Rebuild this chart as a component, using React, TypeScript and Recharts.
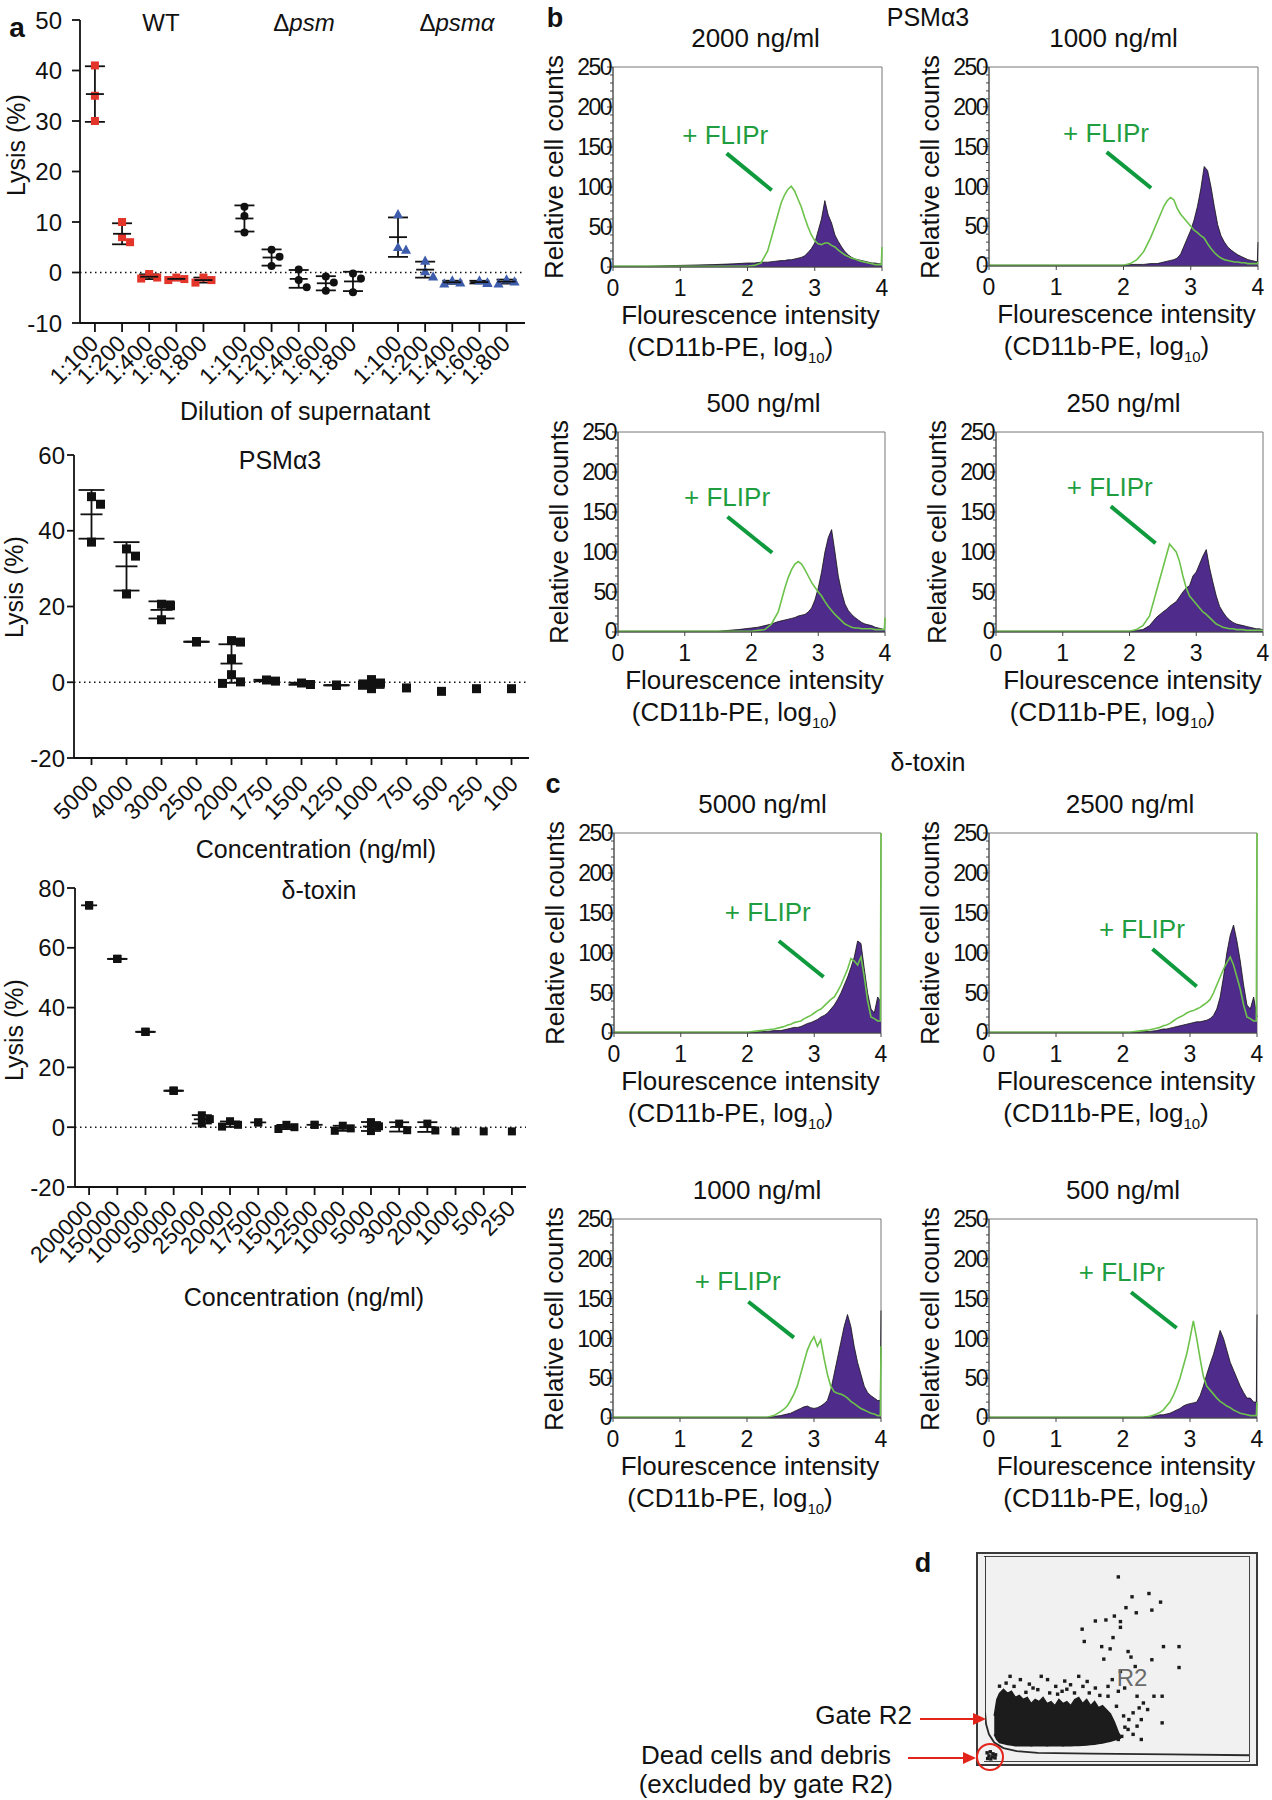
import React from 'react';
import {
  ScatterChart, ComposedChart, Scatter, XAxis, YAxis, ReferenceLine,
  ErrorBar, Area, Line, ReferenceArea, ReferenceDot,
} from 'recharts';

const FONT = '"Liberation Sans", Arial, Helvetica, sans-serif';
const INK = '#111111';
const RED = '#e4352a';
const BLUE = '#3d5cab';
const PURPLE = '#4f2c8c';
const GREEN_LINE = '#6cc24a';
const GREEN_TEXT = '#1f9e40';
const GREEN_MARK = '#0f9a3d';

// ---------------- Panel a : lysis data ----------------
const dilutionLabels = ['1:100', '1:200', '1:400', '1:600', '1:800'];
const wtLysis = [[41, 35, 30], [10, 7, 6], [-0.3, -1, -1.2], [-1, -1.3, -1.5], [-1, -1.5, -2]];
const psmLysis = [[13, 11.2, 7.9], [4.5, 3.1, 1.3], [0.6, -1.5, -2.9], [-0.8, -2, -3.6], [-0.2, -1.2, -3.9]];
const psmaLysis = [[11.5, 5, 4.5], [2.3, 0.2, -0.8], [-1.6, -2, -2.2], [-1.6, -2, -2.1], [-1.4, -1.8, -2.2]];

const psmA3Conc = ['5000', '4000', '3000', '2500', '2000', '1750', '1500', '1250', '1000', '750', '500', '250', '100'];
const psmA3Lysis = [
  [49, 47, 37], [35.2, 33.3, 23.3], [20.6, 20.2, 16.5], [10.7, 10.7, 10.7],
  [11.0, 10.6, 6.2, 2.0, 0.1, -0.3], [0.6, 0.3], [-0.2, -0.6], [-0.8, -0.8, -0.8],
  [0.7, -0.2, -0.8, -1.7], [-1.5], [-2.4], [-1.7], [-1.7],
];

const deltaConc = ['200000', '150000', '100000', '50000', '25000', '20000', '17500', '15000', '12500', '10000', '5000', '3000', '2000', '1000', '500', '250'];
const deltaLysis = [
  [74.2, 74.2, 74.2], [56.3, 56.3, 56.3], [31.9, 31.9, 31.9], [12.2, 12.2, 12.2],
  [4.0, 2.7, 1.2], [2.0, 0.8, 0.2], [1.6, 1.6], [0.8, 0.0, -0.6], [0.8, 0.8],
  [0.5, -0.4, -1.2], [1.7, 0.3, -1.3], [1.2, -1.0], [1.2, -1.1], [-1.4], [-1.4], [-1.4],
];

// ---------------- Panels b, c : histograms ----------------
const GRID = [0, 0.5, 1, 1.5, 1.8, 2.0, 2.1, 2.2, 2.3, 2.4, 2.5, 2.55, 2.6, 2.65, 2.7, 2.75, 2.8, 2.85, 2.9, 2.95,
  3.0, 3.05, 3.1, 3.15, 3.2, 3.25, 3.3, 3.35, 3.4, 3.45, 3.5, 3.55, 3.6, 3.65, 3.7, 3.75, 3.8, 3.85, 3.9, 3.95, 3.99, 4.0];

const b2000Control = [1, 1, 2, 3, 4, 5, 5, 6, 6, 7, 8, 8, 9, 9, 10, 11, 12, 14, 18, 23, 30, 45, 60, 83, 65, 55, 40, 32, 25, 19, 15, 12, 10, 9, 8, 7, 6, 5, 5, 4, 4, 4];
const b2000Flipr = [1, 1, 1, 1, 1, 1, 2, 5, 20, 50, 80, 90, 97, 101, 95, 85, 75, 62, 50, 40, 33, 29, 28, 30, 30, 27, 25, 21, 18, 15, 13, 11, 10, 8, 7, 6, 5, 4, 3, 3, 3, 25];
const b1000Control = [1, 1, 1, 1, 1, 1, 2, 2, 2, 3, 3, 4, 5, 6, 7, 8, 10, 15, 25, 35, 45, 58, 75, 97, 125, 120, 100, 75, 52, 38, 30, 24, 20, 17, 14, 12, 10, 8, 7, 6, 5, 30];
const b1000Flipr = [1, 1, 1, 1, 1, 1, 3, 8, 18, 35, 55, 65, 75, 82, 86, 83, 72, 65, 60, 55, 50, 45, 42, 38, 35, 28, 22, 17, 13, 10, 8, 7, 6, 5, 5, 4, 4, 3, 3, 3, 3, 5];
const b500Control = [1, 1, 1, 1, 3, 5, 6, 8, 10, 13, 15, 16, 17, 18, 20, 21, 22, 25, 30, 40, 55, 75, 100, 118, 128, 100, 70, 50, 35, 27, 22, 18, 15, 12, 10, 9, 8, 6, 5, 4, 3, 3];
const b500Flipr = [1, 1, 1, 1, 1, 1, 2, 3, 10, 25, 55, 68, 78, 85, 88, 85, 78, 70, 62, 56, 50, 45, 38, 32, 27, 22, 18, 14, 10, 8, 6, 5, 5, 4, 4, 4, 4, 3, 3, 3, 3, 18];
const b250Control = [1, 1, 1, 1, 1, 1, 2, 3, 8, 18, 25, 28, 32, 35, 38, 44, 50, 55, 58, 70, 75, 85, 95, 103, 80, 62, 45, 32, 25, 19, 15, 12, 10, 9, 8, 7, 6, 5, 4, 4, 3, 3];
const b250Flipr = [1, 1, 1, 1, 1, 1, 3, 8, 20, 50, 80, 95, 110, 105, 100, 88, 70, 55, 45, 40, 35, 30, 25, 22, 18, 14, 10, 8, 6, 5, 4, 4, 3, 3, 3, 2, 2, 2, 2, 2, 2, 2];
const c5000Control = [1, 1, 1, 1, 1, 1, 1, 2, 2, 3, 3, 4, 5, 6, 7, 7, 8, 10, 12, 13, 15, 17, 20, 22, 25, 30, 35, 42, 50, 60, 70, 82, 95, 115, 112, 80, 50, 30, 25, 45, 40, 40];
const c5000Flipr = [1, 1, 1, 1, 1, 1, 2, 3, 4, 5, 7, 8, 10, 11, 13, 14, 15, 18, 20, 22, 25, 28, 30, 34, 38, 42, 45, 52, 60, 70, 80, 93, 90, 85, 95, 70, 40, 20, 18, 15, 15, 250];
const c2500Control = [1, 1, 1, 1, 1, 1, 1, 1, 2, 2, 3, 4, 5, 5, 6, 7, 8, 9, 10, 11, 12, 13, 14, 14, 15, 16, 18, 22, 30, 45, 70, 100, 122, 135, 115, 90, 60, 35, 30, 45, 25, 20];
const c2500Flipr = [1, 1, 1, 1, 1, 1, 1, 2, 3, 4, 6, 7, 9, 10, 12, 15, 18, 20, 22, 25, 27, 28, 30, 32, 35, 38, 42, 50, 60, 70, 80, 88, 95, 85, 70, 55, 35, 20, 18, 15, 15, 250];
const c1000Control = [1, 1, 1, 1, 1, 1, 1, 1, 1, 2, 3, 4, 5, 6, 8, 10, 12, 14, 15, 13, 12, 13, 15, 18, 22, 35, 55, 75, 95, 115, 130, 115, 90, 70, 55, 40, 32, 28, 25, 22, 22, 135];
const c1000Flipr = [1, 1, 1, 1, 1, 1, 1, 1, 1, 3, 8, 11, 15, 22, 30, 40, 55, 70, 85, 95, 102, 90, 98, 75, 55, 40, 33, 31, 30, 28, 25, 21, 18, 15, 12, 10, 8, 6, 5, 3, 3, 90];
const c500Control = [1, 1, 1, 1, 1, 1, 1, 1, 1, 2, 3, 4, 4, 5, 6, 8, 10, 12, 15, 17, 18, 19, 20, 28, 40, 55, 68, 80, 95, 110, 100, 85, 70, 60, 50, 40, 32, 25, 25, 20, 20, 130];
const c500Flipr = [1, 1, 1, 1, 1, 1, 1, 1, 1, 2, 5, 7, 10, 15, 20, 28, 38, 50, 65, 80, 100, 122, 100, 75, 52, 40, 35, 30, 25, 21, 18, 15, 13, 10, 8, 6, 5, 4, 3, 3, 3, 20];

// ---------------- Panel d : dot plot (0-100 scale inside the frame) ----------------
const blobX = [3.5, 4.5, 5.5, 7, 8.5, 10, 11.5, 13, 14.5, 16, 17.5, 19, 20.5, 22, 23.5, 25, 26.5, 28, 29.5, 31, 32.5, 34, 35.5, 37, 38.5, 40, 41.5, 43, 44.5, 46, 47.5, 49, 50.5, 51.5];
const blobHigh = [22, 30, 33, 35, 33, 34, 31, 32, 30, 31, 28, 30, 29, 31, 28, 29, 27, 30, 28, 29, 27, 30, 31, 28, 30, 27, 29, 26, 27, 25, 23, 19, 14, 11.5];
const blobLow = [13, 10.5, 9, 8.5, 8, 7.8, 7.5, 7.5, 7.4, 7.5, 7.3, 7.5, 7.4, 7.5, 7.3, 7.5, 7.4, 7.5, 7.3, 7.5, 7.4, 7.5, 7.6, 7.7, 7.8, 8, 8.2, 8.5, 8.8, 9.2, 9.6, 10.2, 10.8, 11.2];
const dotX = [50.5, 55.7, 62.1, 66.5, 53.4, 63.2, 57.3, 49.0, 41.8, 45.8, 51.3, 36.8, 51.3, 48.5, 37.6, 44.2, 47.4, 67.6, 73.5, 54.2,
  55.3, 63.2, 45.0, 56.9, 73.5, 51.3, 48.2, 46.6, 52.9, 50.5, 57.6, 64.0, 67.1, 60.0, 58.4, 61.6, 56.1, 54.5, 59.2, 57.6,
  67.1, 54.2, 59.2, 50.5, 56.1, 9.5, 13.4, 21.3, 23.7, 26.8, 32.4, 35.5, 38.7, 41.8, 39.5, 29.2, 11.0, 18.2, 37.1, 33.9,
  7.1, 24.5, 46.6, 49.8, 48.2, 15.5, 20.0, 27.5, 31.0, 43.5, 5.5, 8.0, 16.8, 30.2, 52.5, 53.0, 51.8,
  0.8, 2.0, 3.0, 1.5, 2.8, 4.0, 1.0, 3.8, 2.2];
const dotY = [89.8, 80.1, 81.7, 77.5, 74.8, 73.6, 72.3, 70.7, 68.3, 68.8, 68.0, 64.3, 65.2, 60.2, 58.3, 55.8, 54.7, 55.8, 55.8, 53.4,
  50.7, 49.4, 49.7, 46.1, 45.6, 43.7, 39.7, 36.4, 35.6, 34.0, 31.6, 31.6, 31.6, 28.3, 25.9, 25.1, 23.5, 20.2, 20.2, 17.0,
  18.6, 15.4, 10.5, 10.5, 13.0, 41.3, 39.7, 41.3, 39.7, 36.4, 37.2, 41.3, 38.8, 35.6, 33.2, 34.0, 36.4, 35.6, 36.4, 33.2,
  31.6, 33.2, 31.6, 26.7, 17.0, 33.5, 34.8, 32.6, 35.0, 32.0, 36.5, 38.0, 37.5, 39.0, 22.0, 16.5, 12.0,
  4.0, 4.5, 3.5, 2.5, 2.0, 3.0, 1.2, 1.5, 1.0];
const gateX = [0, 0, 0.4, 1.5, 3.5, 7, 12, 20, 40, 70, 100];
const gateY = [100, 24, 18, 13, 9, 6.3, 4.8, 4.0, 3.6, 3.2, 2.8];

// ---------------- helpers ----------------
const meanOf = (v: number[]) => v.reduce((a, b) => a + b, 0) / v.length;
const sdOf = (v: number[]) => {
  if (v.length < 2) return 0;
  const m = meanOf(v);
  return Math.sqrt(v.reduce((a, b) => a + (b - m) ** 2, 0) / (v.length - 1));
};

function swarm(values: number[], pos: number, pxX: number, pxY: number, size: number) {
  const placed: { dx: number; py: number }[] = [];
  return values.map((v) => {
    const py = v * pxY;
    const same = placed.find((p) => Math.abs(p.py - py) < 1);
    if (same) return { x: pos + same.dx / pxX, y: v };
    let dx = 0;
    for (const s of [0, 1, -1, 2, -2, 3, -3]) {
      dx = s * size;
      if (!placed.some((p) => Math.abs(p.py - py) < size && Math.abs(p.dx - dx) < size * 0.95)) break;
    }
    placed.push({ dx, py });
    return { x: pos + dx / pxX, y: v };
  });
}

const marker = (kind: string, color: string, size: number) => (p: any) => {
  const { cx, cy } = p;
  if (cx == null || cy == null) return <g />;
  if (kind === 'circle') return <circle cx={cx} cy={cy} r={size / 2} fill={color} />;
  if (kind === 'triangle') {
    const s = size * 1.15;
    return <polygon points={`${cx},${cy - s * 0.58} ${cx - s * 0.55},${cy + s * 0.42} ${cx + s * 0.55},${cy + s * 0.42}`} fill={color} />;
  }
  return <rect x={cx - size / 2} y={cy - size / 2} width={size} height={size} fill={color} />;
};
const meanMark = (w: number) => (p: any) => (
  <line x1={p.cx - w / 2} x2={p.cx + w / 2} y1={p.cy} y2={p.cy} stroke={INK} strokeWidth={1.8} />
);

function Txt({ x, y, size = 25, rotate = false, bold = false, color = INK, anchor = 'middle', family = FONT, children }: any) {
  const tx = anchor === 'middle' ? '-50%' : anchor === 'end' ? '-100%' : '0%';
  return (
    <div style={{
      position: 'absolute', left: x, top: y,
      transform: `translate(${tx},-50%)${rotate ? ' rotate(-90deg)' : ''}`,
      fontSize: size, fontFamily: family, fontWeight: bold ? 700 : 400,
      color, whiteSpace: 'nowrap', lineHeight: 1,
    }}>{children}</div>
  );
}

type SeriesSpec = { groups: number[][]; positions: number[]; color: string; shape: string };

function LysisChart(props: any) {
  const {
    left, top, width, height, marginTop, marginRight, yAxisWidth, xAxisHeight,
    xDomain, xTicks, xLabels, yDomain, yTicks, yTickSize, yTickMargin, xTickSize, tickDx, tickDy,
    series, size, meanWidth, capWidth,
  } = props;
  const plotW = width - yAxisWidth - marginRight;
  const plotH = height - marginTop - xAxisHeight;
  const pxX = plotW / (xDomain[1] - xDomain[0]);
  const pxY = plotH / (yDomain[1] - yDomain[0]);
  const pointSets = (series as SeriesSpec[]).map((s) =>
    s.groups.flatMap((vals, i) => swarm(vals, s.positions[i], pxX, pxY, size)));
  const means = (series as SeriesSpec[])
    .flatMap((s) => s.groups.map((vals, i) => ({ vals, pos: s.positions[i] })))
    .filter((g) => g.vals.length > 1)
    .map((g) => ({ x: g.pos, y: meanOf(g.vals), sd: sdOf(g.vals) }));
  const labelOf = (v: number) => {
    const idx = xTicks.findIndex((t: number) => Math.abs(t - v) < 1e-6);
    return idx >= 0 ? xLabels[idx] : '';
  };
  const axisStyle = { stroke: INK, strokeWidth: 1.8 };
  return (
    <div style={{ position: 'absolute', left, top }}>
      <ScatterChart width={width} height={height} margin={{ top: marginTop, right: marginRight, left: 0, bottom: 0 }}>
        <XAxis
          type="number" dataKey="x" domain={xDomain} ticks={xTicks} interval={0} allowDataOverflow
          height={xAxisHeight} tickSize={xTickSize} tickMargin={0} axisLine={axisStyle} tickLine={axisStyle}
          tick={(tp: any) => (
            <g transform={`translate(${tp.x + tickDx},${tp.y + tickDy})`}>
              <text textAnchor="end" transform="rotate(-45)" fontSize={23} fontFamily={FONT} fill={INK}>
                {labelOf(tp.payload.value)}
              </text>
            </g>
          )}
        />
        <YAxis
          type="number" dataKey="y" domain={yDomain} ticks={yTicks} interval={0} allowDataOverflow
          width={yAxisWidth} tickSize={yTickSize} tickMargin={yTickMargin} axisLine={axisStyle} tickLine={axisStyle}
          tick={{ fill: INK, fontSize: 24, fontFamily: FONT }}
        />
        <ReferenceLine y={0} stroke={INK} strokeWidth={1.6} strokeDasharray="1.5 3.5" />
        {(series as SeriesSpec[]).map((s, k) => (
          <Scatter key={k} data={pointSets[k]} shape={marker(s.shape, s.color, size)} isAnimationActive={false} />
        ))}
        <Scatter data={means} shape={meanMark(meanWidth)} isAnimationActive={false}>
          <ErrorBar dataKey="sd" direction="y" width={capWidth} stroke={INK} strokeWidth={1.8} />
        </Scatter>
      </ScatterChart>
    </div>
  );
}

const histTicks = Array.from({ length: 26 }, (_, i) => i * 10);
const HistYTick = (p: any) => {
  const { x, y, payload } = p;
  const v = payload.value;
  const major = v % 50 === 0;
  return (
    <g>
      <line x1={x - (major ? 6 : 3)} x2={x} y1={y} y2={y} stroke="#444" strokeWidth={1} />
      {major && (
        <text x={x - 2} y={y} dy={v === 0 ? '0.3em' : '0.36em'} textAnchor="end" fontSize={23} fontFamily={FONT} fill={INK} letterSpacing={-1.5}>{v}</text>
      )}
    </g>
  );
};

function Histogram({ L, T, W, H, title, titleDx, control, flipr, note }: any) {
  const data = GRID.map((x, i) => ({ x, control: control[i], flipr: flipr[i] }));
  const padL = 70, padT = 20, padR = 12, xh = 40;
  return (
    <>
      <Txt x={L + W / 2 + titleDx} y={T - 29} size={26}>{title}</Txt>
      <Txt x={L - 59} y={T + H / 2} size={26} rotate>Relative cell counts</Txt>
      <Txt x={L + W / 2 + 3} y={T + H + 48} size={26}>Flourescence intensity</Txt>
      <Txt x={L + W / 2 - 17} y={T + H + 80} size={26}>
        (CD11b-PE, log<span style={{ fontSize: 15, position: 'relative', top: 7 }}>10</span>)
      </Txt>
      <div style={{ position: 'absolute', left: L - padL, top: T - padT }}>
        <ComposedChart width={W + padL + padR} height={H + padT + xh} data={data} margin={{ top: padT, right: padR, left: 0, bottom: 0 }}>
          <XAxis
            type="number" dataKey="x" domain={[0, 4]} ticks={[0, 1, 2, 3, 4]} interval={0} height={xh}
            tickSize={4} tickMargin={9} axisLine={{ stroke: '#444' }} tickLine={{ stroke: '#444' }}
            tick={{ fill: INK, fontSize: 23, fontFamily: FONT }}
          />
          <YAxis
            type="number" domain={[0, 250]} ticks={histTicks} interval={0} width={padL}
            tickSize={0} tickMargin={0} tickLine={false} axisLine={{ stroke: '#444' }} tick={HistYTick}
          />
          <ReferenceArea x1={0} x2={4} y1={0} y2={250} fill="none" stroke="#777" strokeWidth={1} ifOverflow="visible" />
          <Area type="linear" dataKey="control" stroke="#111" strokeWidth={0.8} fill={PURPLE} fillOpacity={1}
            dot={false} activeDot={false} isAnimationActive={false} />
          <Line type="linear" dataKey="flipr" stroke={GREEN_LINE} strokeWidth={1.6}
            dot={false} activeDot={false} isAnimationActive={false} />
          <ReferenceLine segment={[{ x: note[2], y: note[3] }, { x: note[4], y: note[5] }]} stroke={GREEN_MARK} strokeWidth={4} />
          <ReferenceDot x={note[0]} y={note[1]} r={0} fill="none" stroke="none"
            label={{ value: '+ FLIPr', position: 'right', offset: 0, fill: GREEN_TEXT, fontSize: 26, fontFamily: FONT }} />
        </ComposedChart>
      </div>
    </>
  );
}

// layout of histogram panels: frame left/top/width/height + FLIPr annotation (label x,y ; segment x1,y1,x2,y2)
const histPanels = [
  { L: 613, T: 67, W: 269, H: 200, title: '2000 ng/ml', titleDx: 8, control: b2000Control, flipr: b2000Flipr, note: [1.03, 165, 1.69, 142, 2.36, 96] },
  { L: 989, T: 67, W: 269, H: 199, title: '1000 ng/ml', titleDx: -10, control: b1000Control, flipr: b1000Flipr, note: [1.1, 168, 1.75, 143, 2.41, 98] },
  { L: 618, T: 432, W: 267, H: 200, title: '500 ng/ml', titleDx: 12, control: b500Control, flipr: b500Flipr, note: [0.99, 169, 1.64, 144, 2.31, 99] },
  { L: 996, T: 432, W: 267, H: 200, title: '250 ng/ml', titleDx: -6, control: b250Control, flipr: b250Flipr, note: [1.06, 182, 1.72, 157, 2.39, 111] },
  { L: 614, T: 833, W: 267, H: 200, title: '5000 ng/ml', titleDx: 15, control: c5000Control, flipr: c5000Flipr, note: [1.66, 152, 2.47, 115, 3.14, 70] },
  { L: 989, T: 833, W: 268, H: 200, title: '2500 ng/ml', titleDx: 7, control: c2500Control, flipr: c2500Flipr, note: [1.64, 130, 2.44, 105, 3.1, 58] },
  { L: 613, T: 1219, W: 268, H: 199, title: '1000 ng/ml', titleDx: 10, control: c1000Control, flipr: c1000Flipr, note: [1.22, 173, 2.02, 146, 2.7, 101] },
  { L: 989, T: 1219, W: 268, H: 199, title: '500 ng/ml', titleDx: 0, control: c500Control, flipr: c500Flipr, note: [1.34, 184, 2.12, 158, 2.8, 113] },
];

function DotPlot() {
  const blobRows = blobX.map((x, i) => ({ x, range: [blobLow[i], blobHigh[i]] }));
  const dots = dotX.map((x, i) => ({ x, y: dotY[i] }));
  const gate = gateX.map((x, i) => ({ x, y: gateY[i] }));
  const dotShape = (p: any) => <rect x={p.cx - 1.7} y={p.cy - 1.7} width={3.4} height={3.4} fill="#1c1c1c" />;
  return (
    <>
      <div style={{ position: 'absolute', left: 976, top: 1552, width: 282, height: 214, border: '2px solid #3a3a3a', boxSizing: 'border-box', background: '#f1f1f1' }} />
      <div style={{ position: 'absolute', left: 984, top: 1556, width: 266, height: 206, borderTop: '1.5px solid #444', borderRight: '1.5px solid #444', borderBottom: '1.5px solid #444', boxSizing: 'border-box' }} />
      <div style={{ position: 'absolute', left: 985, top: 1556 }}>
        <ComposedChart width={264} height={205} margin={{ top: 0, right: 0, left: 0, bottom: 0 }}>
          <XAxis hide type="number" dataKey="x" domain={[0, 100]} allowDataOverflow />
          <YAxis hide type="number" domain={[0, 100]} allowDataOverflow />
          <Area data={blobRows} type="linear" dataKey="range" stroke="#1c1c1c" strokeWidth={1.5} fill="#1c1c1c" fillOpacity={1}
            dot={false} activeDot={false} isAnimationActive={false} />
          <Scatter data={dots} dataKey="y" shape={dotShape} isAnimationActive={false} />
          <Line data={gate} type="linear" dataKey="y" stroke="#2a2a2a" strokeWidth={1.8} dot={false} activeDot={false} isAnimationActive={false} />
        </ComposedChart>
      </div>
      <Txt x={1132} y={1678} size={24} color="#6a6a6a">R2</Txt>
      <Txt x={912} y={1715} size={26} anchor="end">Gate R2</Txt>
      <Txt x={891} y={1755} size={26} anchor="end">Dead cells and debris</Txt>
      <Txt x={893} y={1784} size={26} anchor="end">(excluded by gate R2)</Txt>
      <svg style={{ position: 'absolute', left: 900, top: 1700 }} width={110} height={80}>
        <line x1={20} y1={19} x2={74} y2={19} stroke="#e3241b" strokeWidth={2} />
        <polygon points="86,19 73,13 73,25" fill="#e3241b" />
        <line x1={8} y1={58} x2={64} y2={58} stroke="#e3241b" strokeWidth={2} />
        <polygon points="76,58 63,52 63,64" fill="#e3241b" />
        <circle cx={90} cy={57} r={13} fill="none" stroke="#e3241b" strokeWidth={2} />
      </svg>
    </>
  );
}

export default function App() {
  const groupStarts = [0, 5.51, 11.17];
  const topPositions = groupStarts.map((g) => dilutionLabels.map((_, i) => g + i));
  const topTicks = topPositions.flat();
  const topLabels = groupStarts.flatMap(() => dilutionLabels);
  const psmPositions = psmA3Conc.map((_, i) => i);
  const deltaPositions = deltaConc.map((_, i) => i);

  return (
    <div style={{ position: 'absolute', left: 0, top: 0, width: 1272, height: 1800, background: '#fff', fontFamily: FONT, overflow: 'hidden' }}>
      {/* ---------- panel a top ---------- */}
      <Txt x={17} y={28} size={28} bold>a</Txt>
      <Txt x={161} y={23} size={24}>WT</Txt>
      <Txt x={304} y={23} size={24}>Δ<i>psm</i></Txt>
      <Txt x={457} y={23} size={24}>Δ<i>psmα</i></Txt>
      <Txt x={16} y={145} size={25} rotate>Lysis (%)</Txt>
      <LysisChart
        left={0} top={0} width={535} height={413} marginTop={20} marginRight={10} yAxisWidth={80} xAxisHeight={90}
        xDomain={[-0.55, 15.85]} xTicks={topTicks} xLabels={topLabels}
        yDomain={[-10, 50]} yTicks={[-10, 0, 10, 20, 30, 40, 50]} yTickSize={8} yTickMargin={10}
        xTickSize={9} tickDx={5} tickDy={13}
        series={[
          { groups: wtLysis, positions: topPositions[0], color: RED, shape: 'square' },
          { groups: psmLysis, positions: topPositions[1], color: INK, shape: 'circle' },
          { groups: psmaLysis, positions: topPositions[2], color: BLUE, shape: 'triangle' },
        ]}
        size={8} meanWidth={18} capWidth={10}
      />
      <Txt x={305} y={411} size={25}>Dilution of supernatant</Txt>

      {/* ---------- panel a middle ---------- */}
      <Txt x={280} y={460} size={25}>PSMα3</Txt>
      <Txt x={14} y={587} size={25} rotate>Lysis (%)</Txt>
      <LysisChart
        left={0} top={435} width={539} height={413} marginTop={20} marginRight={10} yAxisWidth={74} xAxisHeight={90}
        xDomain={[-0.5, 12.5]} xTicks={psmPositions} xLabels={psmA3Conc}
        yDomain={[-20, 60]} yTicks={[-20, 0, 20, 40, 60]} yTickSize={7} yTickMargin={2}
        xTickSize={7} tickDx={8} tickDy={20}
        series={[{ groups: psmA3Lysis, positions: psmPositions, color: INK, shape: 'square' }]}
        size={9} meanWidth={22} capWidth={13}
      />
      <Txt x={316} y={849} size={25}>Concentration (ng/ml)</Txt>

      {/* ---------- panel a bottom ---------- */}
      <Txt x={319} y={890} size={25}>δ-toxin</Txt>
      <Txt x={14} y={1030} size={25} rotate>Lysis (%)</Txt>
      <LysisChart
        left={0} top={868} width={536} height={409} marginTop={20} marginRight={10} yAxisWidth={75} xAxisHeight={90}
        xDomain={[-0.5, 15.5]} xTicks={deltaPositions} xLabels={deltaConc}
        yDomain={[-20, 80]} yTicks={[-20, 0, 20, 40, 60, 80]} yTickSize={8} yTickMargin={2}
        xTickSize={8} tickDx={5} tickDy={15}
        series={[{ groups: deltaLysis, positions: deltaPositions, color: INK, shape: 'square' }]}
        size={8} meanWidth={16} capWidth={10}
      />
      <Txt x={304} y={1297} size={25}>Concentration (ng/ml)</Txt>

      {/* ---------- panels b and c ---------- */}
      <Txt x={555} y={18} size={27} bold>b</Txt>
      <Txt x={928} y={17} size={25}>PSMα3</Txt>
      <Txt x={553} y={784} size={27} bold>c</Txt>
      <Txt x={928} y={762} size={25}>δ-toxin</Txt>
      {histPanels.map((p, i) => <Histogram key={i} {...p} />)}

      {/* ---------- panel d ---------- */}
      <Txt x={923} y={1563} size={27} bold>d</Txt>
      <DotPlot />
    </div>
  );
}
